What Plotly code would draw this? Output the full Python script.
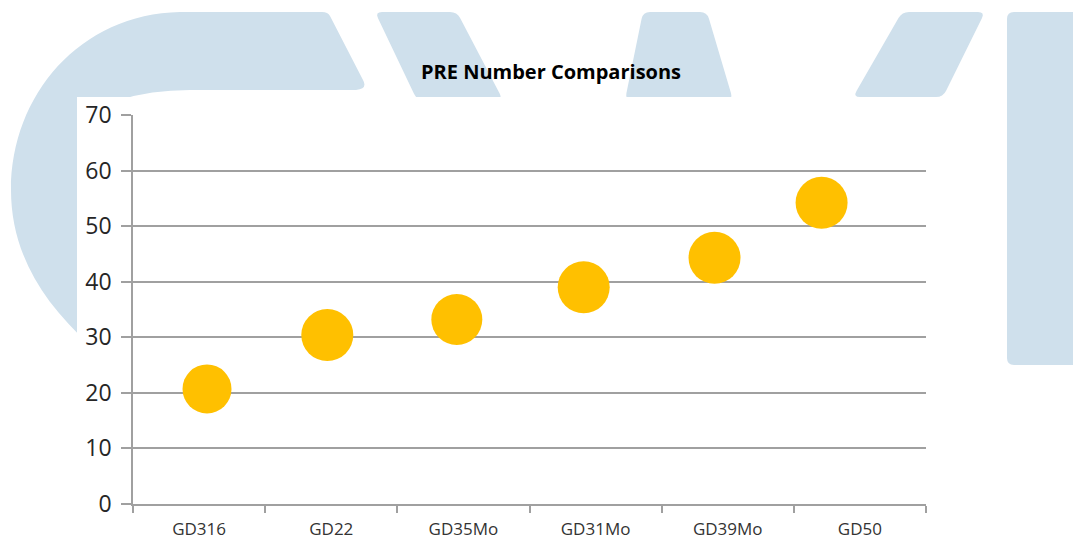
import plotly.graph_objects as go

# ---- data ----
categories = ["GD316", "GD22", "GD35Mo", "GD31Mo", "GD39Mo", "GD50"]
x_pos = [1.06, 1.97, 2.95, 3.91, 4.90, 5.71]
pre_values = [20.7, 30.4, 33.2, 39.0, 44.3, 54.2]
bubble_px = [49, 52, 51, 52, 52, 52]
y_ticks = [0, 10, 20, 30, 40, 50, 60, 70]

W, H = 1073, 540
L, R, T, B = 133, 147, 115, 36
PW, PH = W - L - R, H - T - B

def P(px, py):
    return (px - L) / PW, (H - B - py) / PH

def fmt(pt):
    x, y = P(*pt)
    return f"{x:.5f},{y:.5f}"

def rounded_poly(pts, r=6):
    import math
    n = len(pts)
    d = ""
    for i in range(n):
        p0 = pts[i - 1]
        p1 = pts[i]
        p2 = pts[(i + 1) % n]
        v1 = (p0[0] - p1[0], p0[1] - p1[1])
        v2 = (p2[0] - p1[0], p2[1] - p1[1])
        l1 = math.hypot(*v1)
        l2 = math.hypot(*v2)
        rr = min(r, l1 / 2, l2 / 2)
        a = (p1[0] + v1[0] / l1 * rr, p1[1] + v1[1] / l1 * rr)
        b = (p1[0] + v2[0] / l2 * rr, p1[1] + v2[1] / l2 * rr)
        d += ("M" if i == 0 else "L") + fmt(a) + " Q" + fmt(p1) + " " + fmt(b) + " "
    return d + "Z"

BLUE = "#CFE0EC"
shapes = []

# left arc shape
left_path = (
    "M" + fmt((180, 12))
    + " C" + fmt((80, 14)) + " " + fmt((11, 95)) + " " + fmt((11, 190))
    + " C" + fmt((11, 250)) + " " + fmt((40, 300)) + " " + fmt((90, 345))
    + " L" + fmt((120, 345))
    + " L" + fmt((120, 100))
    + " Q" + fmt((150, 90)) + " " + fmt((190, 90))
    + " L" + fmt((356, 90))
    + " Q" + fmt((368, 89)) + " " + fmt((363, 80))
    + " L" + fmt((330, 16))
    + " Q" + fmt((328, 12)) + " " + fmt((322, 12))
    + " Z"
)
shapes.append(dict(type="path", path=left_path, xref="paper", yref="paper",
                   fillcolor=BLUE, line=dict(width=0), layer="below"))

for poly in [
    [(375, 12), (457, 12), (503, 100), (417, 100)],
    [(643, 12), (707, 12), (733, 100), (625, 100)],
    [(902, 12), (985, 12), (943, 97), (853, 97)],
    [(1007, 12), (1080, 12), (1080, 365), (1007, 365)],
]:
    shapes.append(dict(type="path", path=rounded_poly(poly, 7), xref="paper", yref="paper",
                       fillcolor=BLUE, line=dict(width=0), layer="below"))

# white chart area
x0, y0 = P(77, 97)
x1, y1 = P(1000, 560)
shapes.append(dict(type="rect", x0=x0, y0=y1, x1=x1, y1=y0, xref="paper", yref="paper",
                   fillcolor="white", line=dict(width=0), layer="below"))

fig = go.Figure()
fig.add_trace(go.Scatter(
    x=x_pos, y=pre_values, mode="markers",
    marker=dict(size=bubble_px, color="#FFC000", line=dict(width=0), opacity=1),
    hoverinfo="text", text=categories, showlegend=False,
))

GRID = "#A0A0A0"
fig.update_layout(
    width=W, height=H,
    margin=dict(l=L, r=R, t=T, b=B, pad=0, autoexpand=False),
    paper_bgcolor="white",
    plot_bgcolor="rgba(0,0,0,0)",
    shapes=shapes,
    showlegend=False,
    xaxis=dict(
        range=[0.5, 6.5], tickmode="array",
        tickvals=list(range(1, len(categories) + 1)), ticktext=categories,
        ticks="", showgrid=False, zeroline=False, automargin=False,
        showline=True, linecolor=GRID, linewidth=1.5,
        tickfont=dict(family="Open Sans", size=17, color="#333333"),
        ticklabelstandoff=9,
        minor=dict(tickmode="array", tickvals=[i + 0.5 for i in range(len(categories) + 1)],
                   ticks="outside", ticklen=7, tickcolor=GRID, tickwidth=1.5, showgrid=False),
        fixedrange=True,
    ),
    yaxis=dict(
        range=[0, 70], tickmode="array", tickvals=y_ticks,
        ticks="outside", ticklen=10, tickcolor=GRID, tickwidth=1.5,
        showgrid=True, gridcolor=GRID, gridwidth=1.5, zeroline=False, automargin=False,
        showline=True, linecolor=GRID, linewidth=1.5,
        tickfont=dict(family="Open Sans", size=23, color="#262626"),
        ticklabelstandoff=5,
        fixedrange=True,
    ),
    annotations=[dict(
        text="<b>PRE Number Comparisons</b>", xref="paper", yref="paper",
        x=P(551, 72)[0], y=P(551, 72)[1], xanchor="center", yanchor="middle",
        showarrow=False, font=dict(family="Open Sans", size=20, color="#000000"),
    )],
)

fig.write_html("out.html", config={"displayModeBar": False},
               post_script="document.body.style.margin='0';document.body.style.overflow='hidden';")
